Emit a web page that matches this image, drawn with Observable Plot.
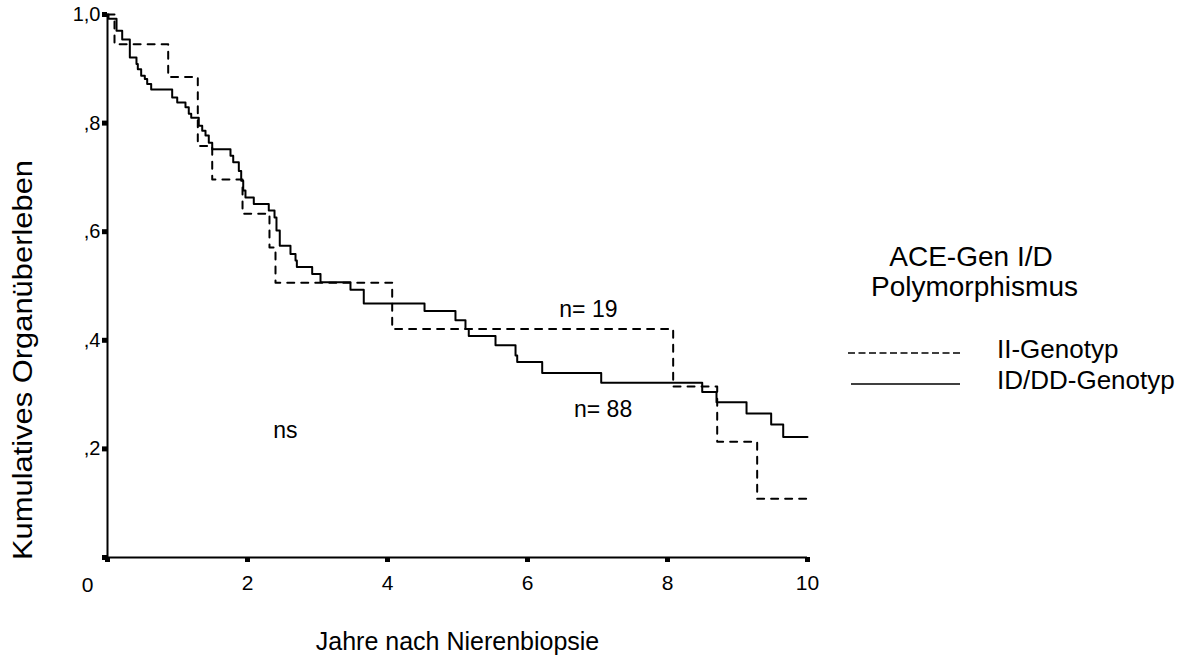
<!DOCTYPE html>
<html>
<head>
<meta charset="utf-8">
<script src="https://cdn.jsdelivr.net/npm/d3@7"></script>
<script src="https://cdn.jsdelivr.net/npm/@observablehq/plot@0.6"></script>
<style>
  body { margin: 0; background: #fff; font-family: "Liberation Sans", Arial, sans-serif; color: #000; }
  #wrap { position: relative; width: 1193px; height: 658px; overflow: hidden; }
  #chart svg { display: block; }
  .leg { position: absolute; white-space: nowrap; }
  .legtitle { font-size: 28px; line-height: 30px; text-align: center; }
  .legitem { font-size: 26px; line-height: 1; }
</style>
</head>
<body>
<div id="wrap">
  <div id="chart"></div>
</div>
<script>
// ---- data ----
const legendTitle = ["ACE-Gen I/D", "Polymorphismus"];
const groupNames = ["II-Genotyp", "ID/DD-Genotyp"];

// II-Genotyp (dashed, n = 19): event times (years) and survival after the step
const iiTimes = [0, 0.100, 0.867, 1.290, 1.496, 1.929, 2.314, 2.400, 4.067, 8.081, 8.710, 9.281, 10];
const iiSurv  = [1, 0.945, 0.885, 0.758, 0.696, 0.633, 0.571, 0.506, 0.421, 0.315, 0.213, 0.108, 0.108];

// ID/DD-Genotyp (solid, n = 88)
const idTimes = [0, 0.014, 0.129, 0.210, 0.319, 0.414, 0.433, 0.481, 0.533, 0.567, 0.624, 0.924, 0.996,
  1.114, 1.161, 1.196, 1.304, 1.353, 1.400, 1.447, 1.496, 1.757, 1.796, 1.876, 1.910, 1.939, 1.971,
  2.090, 2.304, 2.386, 2.414, 2.461, 2.614, 2.686, 2.705, 2.924, 3.043, 3.471, 3.661, 4.529, 4.971,
  5.114, 5.161, 5.543, 5.829, 5.853, 6.210, 7.053, 8.496, 8.700, 9.129, 9.481, 9.653, 10];
const idSurv  = [1, 0.992, 0.970, 0.954, 0.921, 0.909, 0.899, 0.887, 0.881, 0.872, 0.862, 0.847, 0.838,
  0.829, 0.817, 0.810, 0.795, 0.786, 0.777, 0.764, 0.752, 0.740, 0.728, 0.712, 0.694, 0.676, 0.663,
  0.651, 0.639, 0.626, 0.602, 0.574, 0.559, 0.547, 0.535, 0.522, 0.507, 0.493, 0.468, 0.454, 0.437,
  0.421, 0.408, 0.391, 0.372, 0.360, 0.340, 0.322, 0.305, 0.286, 0.265, 0.245, 0.222, 0.222];

const xTicks = [0, 2, 4, 6, 8, 10];
const xTickLabels = ["0", "2", "4", "6", "8", "10"];
const yTicks = [0, 0.2, 0.4, 0.6, 0.8, 1.0];
const yTickLabels = ["", ",2", ",4", ",6", ",8", "1,0"];

const xTitle = "Jahre nach Nierenbiopsie";
const yTitle = "Kumulatives Organüberleben";

const noteTexts = ["n= 19", "n= 88", "ns"];
const noteX = [6.87, 7.08, 2.54];
const noteY = [0.457, 0.273, 0.233];

// ---- build tables ----
const iiData = iiTimes.map((t, i) => ({t, s: iiSurv[i]}));
const idData = idTimes.map((t, i) => ({t, s: idSurv[i]}));
const notes = noteTexts.map((text, i) => ({text, x: noteX[i], y: noteY[i]}));

const FONT = '"Liberation Sans", Arial, sans-serif';

const chart = Plot.plot({
  width: 1193,
  height: 658,
  marginLeft: 107,
  marginRight: 386,
  marginTop: 14,
  marginBottom: 101,
  x: {domain: [0, 10]},
  y: {domain: [0, 1]},
  style: {fontFamily: FONT, background: "#fff", color: "#000", overflow: "visible"},
  marks: [
    Plot.ruleX([0], {stroke: "#000", strokeWidth: 2}),
    Plot.ruleY([0], {stroke: "#000", strokeWidth: 2}),
    Plot.axisY({
      ticks: yTicks,
      tickFormat: d => yTickLabels[yTicks.indexOf(d)],
      tickSize: 5, tickPadding: 2, strokeWidth: 5,
      fontSize: 20, label: null
    }),
    Plot.axisX({
      ticks: xTicks,
      tickFormat: d => d === 0 ? "" : xTickLabels[xTicks.indexOf(d)],
      tickSize: 5, tickPadding: 13, strokeWidth: 5,
      fontSize: 21, label: null
    }),
    Plot.text([xTickLabels[0]], {frameAnchor: "bottom-left", textAnchor: "middle", lineAnchor: "middle", dx: -20, dy: 28, fontSize: 21}),
    Plot.line(idData, {x: "t", y: "s", curve: "step-after", stroke: "#000", strokeWidth: 2}),
    Plot.line(iiData, {x: "t", y: "s", curve: "step-after", stroke: "#000", strokeWidth: 2, strokeDasharray: "7,7"}),
    Plot.text(notes, {x: "x", y: "y", text: "text", fontSize: 23}),
    Plot.text([xTitle], {frameAnchor: "bottom", lineAnchor: "middle", dy: 84, fontSize: 25}),
    Plot.text([yTitle], {frameAnchor: "left", textAnchor: "middle", lineAnchor: "middle", rotate: -90, dx: -84, dy: 74, fontSize: 27})
  ]
});
document.getElementById("chart").appendChild(chart);

// stretch the vertical axis title along its length as in the reference
for (const t of chart.querySelectorAll("text")) {
  if (t.textContent === yTitle) {
    t.setAttribute("textLength", 400);
    t.setAttribute("lengthAdjust", "spacingAndGlyphs");
  }
}

// ---- legend (HTML overlay to the right of the plot) ----
const wrap = document.getElementById("wrap");
const title = document.createElement("div");
title.className = "leg legtitle";
title.style.left = "871px"; title.style.top = "242px"; title.style.width = "200px";
title.innerHTML = legendTitle.join("<br>");
wrap.appendChild(title);

const swatches = [
  {name: groupNames[0], dash: "7,3.5", x1: 848, x2: 963, y: 353, top: 336},
  {name: groupNames[1], dash: null,    x1: 851, x2: 960, y: 384, top: 367}
];
const ns = "http://www.w3.org/2000/svg";
const svg = document.createElementNS(ns, "svg");
svg.setAttribute("width", 1193); svg.setAttribute("height", 658);
svg.style.position = "absolute"; svg.style.left = "0"; svg.style.top = "0"; svg.style.pointerEvents = "none";
for (const s of swatches) {
  const l = document.createElementNS(ns, "line");
  l.setAttribute("x1", s.x1); l.setAttribute("x2", s.x2);
  l.setAttribute("y1", s.y); l.setAttribute("y2", s.y);
  l.setAttribute("stroke", "#000"); l.setAttribute("stroke-width", 1.6);
  if (s.dash) l.setAttribute("stroke-dasharray", s.dash);
  svg.appendChild(l);
  const t = document.createElement("div");
  t.className = "leg legitem";
  t.style.left = "997px"; t.style.top = s.top + "px";
  t.textContent = s.name;
  wrap.appendChild(t);
}
wrap.appendChild(svg);
</script>
</body>
</html>
